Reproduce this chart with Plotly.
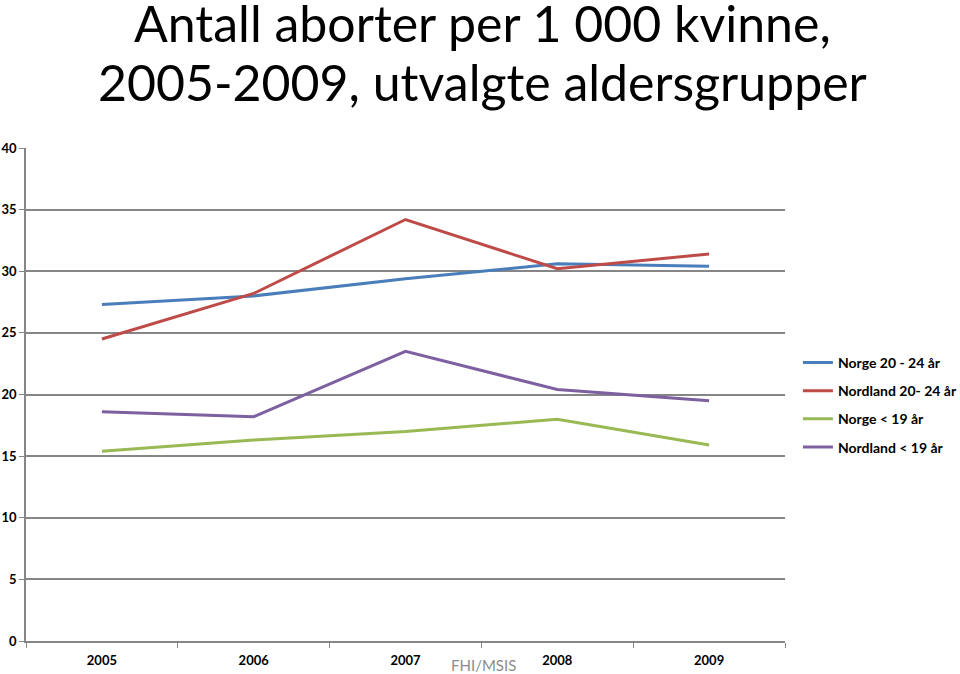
import plotly.graph_objects as go

years = ["2005", "2006", "2007", "2008", "2009"]
norge_20_24 = [27.3, 28.0, 29.4, 30.6, 30.4]
nordland_20_24 = [24.5, 28.2, 34.2, 30.2, 31.4]
norge_u19 = [15.4, 16.3, 17.0, 18.0, 15.9]
nordland_u19 = [18.6, 18.2, 23.5, 20.4, 19.5]
y_ticks = [0, 5, 10, 15, 20, 25, 30, 35, 40]
title_lines = ["Antall aborter per 1 000 kvinne,", "2005-2009, utvalgte aldersgrupper"]

series = [
    ("Norge 20 - 24 år", norge_20_24, "#4A7EBB"),
    ("Nordland 20- 24 år", nordland_20_24, "#BE4B48"),
    ("Norge < 19 år", norge_u19, "#98B954"),
    ("Nordland < 19 år", nordland_u19, "#7D60A0"),
]

fig = go.Figure()
for i, (name, vals, col) in enumerate(series):
    fig.add_trace(go.Scatter(x=years, y=vals, name=name, mode="lines",
                             legendgroup=f"g{i}",
                             line=dict(color=col, width=3)))

fig.update_layout(
    width=960, height=674,
    paper_bgcolor="white", plot_bgcolor="white",
    margin=dict(l=26, r=175, t=148, b=33, autoexpand=False),
    font=dict(family="Lato, Open Sans, sans-serif", color="black"),
    legend=dict(x=1.017, y=0.479, xanchor="left", yanchor="middle",
                font=dict(size=14, family="Lato", weight="bold"),
                itemwidth=30, tracegroupgap=7, bgcolor="rgba(0,0,0,0)"),
    showlegend=True,
)
fig.update_xaxes(type="category", range=[-0.5, 4.5], tickson="boundaries",
                 ticks="outside", ticklen=5, tickcolor="#868686",
                 showline=True, linecolor="#868686", linewidth=1.5,
                 showgrid=False, automargin=False, ticklabelstandoff=7,
                 tickfont=dict(size=13, family="Lato", weight="bold"))
fig.update_yaxes(range=[0, 40], tickvals=y_ticks, ticks="outside", ticklen=5,
                 tickcolor="#868686", showline=True, linecolor="#868686",
                 linewidth=1.5, showgrid=True, gridcolor="#868686", gridwidth=1.5,
                 zeroline=False, automargin=False,
                 tickfont=dict(size=13, family="Lato", weight="bold"))

for line, shift in zip(title_lines, [94, 35]):
    fig.add_annotation(text=line, xref="paper", yref="paper", x=0.602, y=1.0,
                       xanchor="center", yanchor="bottom", yshift=shift, borderpad=0,
                       showarrow=False, font=dict(size=50, family="Lato", color="black"))
fig.add_annotation(text="FHI/MSIS", xref="paper", yref="paper", x=0.6025, y=0,
                   yshift=-13, xanchor="center", yanchor="top", showarrow=False,
                   font=dict(size=15, family="Lato", color="#8C8C8C"))

fig.write_html("out.html", config={"displayModeBar": False},
               post_script="document.body.style.margin='0';")
